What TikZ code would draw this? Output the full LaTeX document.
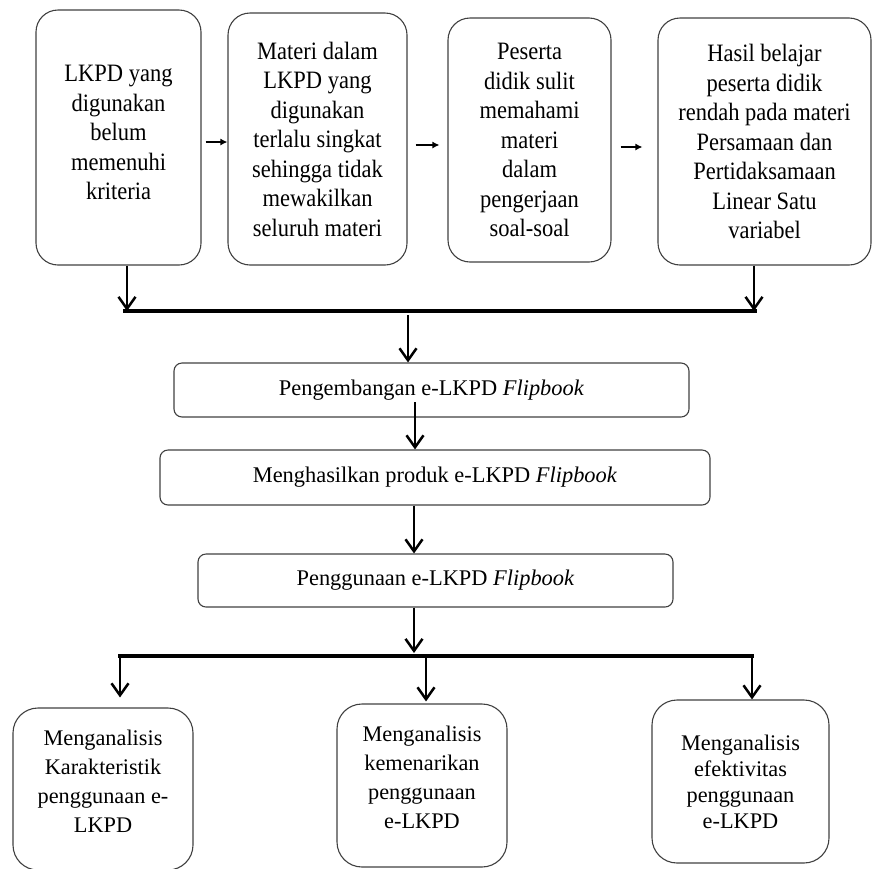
\documentclass[tikz,border=0pt]{standalone}
\usepackage{fontspec}
\setmainfont{Liberation Serif}
\newfontfamily\tallserif[FakeStretch=0.9]{Liberation Serif}
\usetikzlibrary{arrows.meta}
\tikzset{
  box/.style  = {draw=black!75, line width=1.1pt, align=center, inner sep=0pt},
  tbox/.style = {box, rounded corners=22pt, font=\tallserif\fontsize{25}{29.5}\selectfont},
  pbox/.style = {box, rounded corners=8pt, font=\fontsize{22.4}{25}\selectfont},
  abox/.style = {box, rounded corners=25pt, font=\fontsize{22.3}{29}\selectfont},
  ar/.style   = {-{Latex[length=7pt,width=7pt]}, line width=1.6pt},
  arr/.style  = {-{Straight Barb[length=12pt,width=17pt]}, line width=2.5pt},
  bar/.style  = {line width=4pt},
}

\begin{document}
\begin{tikzpicture}[x=1pt, y=-1pt]
  \useasboundingbox (0,0) rectangle (874,868);

  % problems
  \node[tbox, minimum width=165pt, minimum height=255pt, text depth=10pt] (b1) at (118.5,137.5)
    {LKPD yang\\digunakan\\belum\\memenuhi\\kriteria};
  \node[tbox, minimum width=179pt, minimum height=252pt] (b2) at (317.5,139)
    {Materi dalam\\LKPD yang\\digunakan\\terlalu singkat\\sehingga tidak\\mewakilkan\\seluruh materi};
  \node[tbox, minimum width=163pt, minimum height=244pt] (b3) at (529.5,140)
    {Peserta\\didik sulit\\memahami\\materi\\dalam\\pengerjaan\\soal-soal};
  \node[tbox, minimum width=213pt, minimum height=247pt] (b4) at (764.5,141.5)
    {Hasil belajar\\peserta didik\\rendah pada materi\\Persamaan dan\\Pertidaksamaan\\Linear Satu\\variabel};

  \draw[ar, shorten <=4pt] (b1.east |- 0,142) -- (b2.west |- 0,142);
  \draw[ar, shorten <=8pt, shorten >=8pt] (b2.east |- 0,145) -- (b3.west |- 0,145);
  \draw[ar, shorten <=9pt, shorten >=15pt] (b3.east |- 0,147) -- (b4.west |- 0,147);

  % steps
  \node[pbox, minimum width=515pt, minimum height=54pt] (p1) at (431.5,390)
    {Pengembangan e-LKPD \textit{Flipbook}};
  \node[pbox, minimum width=550pt, minimum height=55pt] (p2) at (435,477.5)
    {Menghasilkan produk e-LKPD \textit{Flipbook}};
  \node[pbox, minimum width=475pt, minimum height=53pt] (p3) at (435.5,580.5)
    {Penggunaan e-LKPD \textit{Flipbook}};

  \coordinate (jl) at (123,311);
  \coordinate (jr) at (757,311);
  \draw[arr] (b1.south -| 127,0) -- (127,311);
  \draw[arr] (b4.south -| 754,0) -- (754,311);
  \draw[bar] (jl) -- (jr);
  \draw[arr] (408,315) -- (p1.north -| 408,0);
  \draw[arr] (415,402) -- (p2.north -| 415,0);
  \draw[arr] (p2.south -| 414,0) -- (p3.north -| 414,0);
  \draw[arr] (p3.south -| 414,0) -- (414,653);

  % analyses
  \node[abox, minimum width=180pt, minimum height=162pt, text depth=16pt] (a1) at (103,789)
    {Menganalisis\\Karakteristik\\penggunaan e-\\LKPD};
  \node[abox, minimum width=170pt, minimum height=163pt, text depth=16pt] (a2) at (422,785.5)
    {Menganalisis\\kemenarikan\\penggunaan\\e-LKPD};
  \node[abox, minimum width=177pt, minimum height=163pt, font=\fontsize{22.3}{26}\selectfont] (a3) at (740.5,781.5)
    {Menganalisis\\efektivitas\\penggunaan\\e-LKPD};

  \coordinate (kl) at (118,656);
  \coordinate (kr) at (754,656);
  \draw[bar] (kl) -- (kr);
  \draw[arr] (120,656) -- ([yshift=10pt]a1.north -| 120,0);
  \draw[arr] (426,656) -- ([yshift=2pt]a2.north -| 426,0);
  \draw[arr] (752,656) -- (a3.north -| 752,0);
\end{tikzpicture}
\end{document}
